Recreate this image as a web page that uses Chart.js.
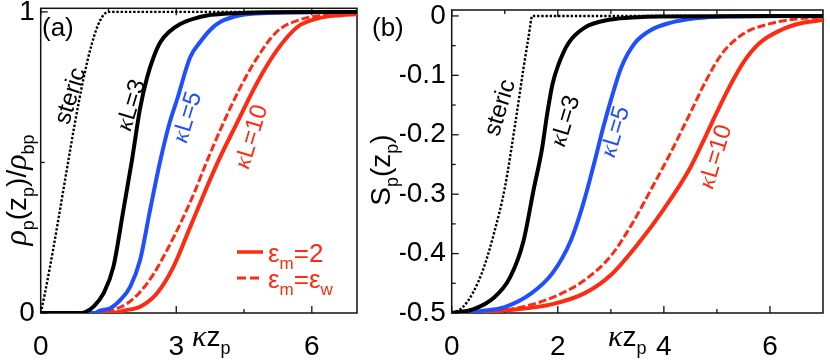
<!DOCTYPE html>
<html>
<head>
<meta charset="utf-8">
<script src="https://cdn.jsdelivr.net/npm/chart.js@4.4.1/dist/chart.umd.min.js"></script>
<style>
  html, body { margin: 0; padding: 0; background: #fff; }
  #wrap { position: relative; width: 830px; height: 360px; overflow: hidden; }
  canvas { position: absolute; top: 0; }
  #cA { left: 0; }
  #cB { left: 360px; }
</style>
</head>
<body>
<div id="wrap">
  <canvas id="cA" width="360" height="360"></canvas>
  <canvas id="cB" width="470" height="360"></canvas>
</div>
<script>
// ---- panel (a): rho_p(z_p)/rho_bp vs kappa z_p ----
const stericA_x = [0, 1.5, 7];
const stericA_y = [0, 1, 1];
const kL3A_x = [0, 0.9, 1.0, 1.17, 1.39, 1.61, 1.83, 2.02, 2.2, 2.35, 2.5, 2.65, 2.85, 3.09, 3.4, 3.68, 4.2, 5, 7];
const kL3A_y = [0, 0, 0.004, 0.021, 0.065, 0.154, 0.342, 0.508, 0.68, 0.78, 0.85, 0.9, 0.935, 0.96, 0.978, 0.988, 0.995, 0.999, 1];
const kL5A_x = [0, 1.2, 1.31, 1.54, 1.76, 1.98, 2.2, 2.42, 2.65, 2.85, 3.02, 3.31, 3.53, 3.75, 3.98, 4.42, 5, 7];
const kL5A_y = [0, 0, 0.008, 0.016, 0.043, 0.087, 0.176, 0.342, 0.508, 0.63, 0.71, 0.85, 0.9, 0.94, 0.967, 0.989, 0.996, 1];
const kL10wA_x = [0, 1.4, 1.6, 1.9, 2.2, 2.5, 2.8, 3.1, 3.4, 3.64, 3.98, 4.42, 4.8, 5.23, 5.75, 6.2, 7];
const kL10wA_y = [0, 0, 0.01, 0.03, 0.07, 0.13, 0.21, 0.3, 0.4, 0.49, 0.61, 0.75, 0.85, 0.935, 0.975, 0.988, 0.995];
const kL10A_x = [0, 1.6, 1.83, 2.2, 2.57, 2.94, 3.31, 3.68, 3.94, 4.34, 4.79, 5.23, 5.68, 6.12, 6.64, 7];
const kL10A_y = [0, 0, 0.008, 0.021, 0.065, 0.154, 0.286, 0.419, 0.508, 0.63, 0.765, 0.873, 0.95, 0.978, 0.989, 0.992];
const xMajorA = [0, 3, 6];
const xMinorA = [1.5, 4.5];
const yMajorA = [0, 1];
const yMinorA = [0.5];

// ---- panel (b): S_p(z_p) vs kappa z_p ----
const stericB_x = [0, 0.2, 0.4, 0.6, 0.8, 1.0, 1.2, 1.35, 1.45, 1.52, 7];
const stericB_y = [-0.5, -0.491, -0.466, -0.425, -0.365, -0.29, -0.18, -0.09, -0.035, 0, 0];
const kL3B_x = [0, 0.4, 0.8, 1.1, 1.35, 1.55, 1.7, 1.8, 1.9, 2.0, 2.2, 2.5, 3.0, 3.5, 4, 7];
const kL3B_y = [-0.5, -0.494, -0.474, -0.44, -0.38, -0.29, -0.225, -0.165, -0.115, -0.085, -0.046, -0.02, -0.006, -0.002, -0.001, 0];
const kL5B_x = [0, 0.6, 1.0, 1.5, 1.9, 2.25, 2.5, 2.7, 2.85, 3.0, 3.2, 3.45, 3.75, 4.1, 4.6, 5.2, 7];
const kL5B_y = [-0.5, -0.496, -0.49, -0.467, -0.433, -0.377, -0.31, -0.243, -0.19, -0.142, -0.086, -0.046, -0.024, -0.012, -0.004, -0.001, 0];
const kL10wB_x = [0, 1.0, 1.5, 2.0, 2.5, 3.0, 3.4, 3.8, 4.1, 4.5, 4.8, 5.1, 5.5, 6.0, 6.5, 7];
const kL10wB_y = [-0.5, -0.495, -0.486, -0.47, -0.445, -0.404, -0.35, -0.285, -0.235, -0.163, -0.108, -0.063, -0.03, -0.013, -0.005, -0.002];
const kL10B_x = [0, 1.2, 1.9, 2.5, 3.0, 3.5, 4.0, 4.5, 4.8, 5.0, 5.25, 5.5, 5.8, 6.2, 6.6, 7];
const kL10B_y = [-0.5, -0.494, -0.485, -0.467, -0.436, -0.385, -0.325, -0.255, -0.2, -0.162, -0.117, -0.078, -0.046, -0.024, -0.012, -0.007];
const xMajorB = [0, 2, 4, 6];
const xMinorB = [1, 3, 5];
const yMajorB = [0, -0.1, -0.2, -0.3, -0.4, -0.5];
const yMinorB = [-0.05, -0.15, -0.25, -0.35, -0.45];

const BLACK = '#000000';
const BLUE = '#1f4fff';
const RED = '#ff2a12';
const SANS = '"Liberation Sans", Arial, Helvetica, sans-serif';
const SERIF = '"Liberation Serif", "DejaVu Serif", serif';

const pts = (xs, ys) => xs.map((x, i) => ({ x: x, y: ys[i] }));

function line(xs, ys, color, width, dash) {
  return {
    data: pts(xs, ys),
    borderColor: color,
    borderWidth: width,
    borderDash: dash || [],
    pointRadius: 0,
    fill: false,
    cubicInterpolationMode: 'monotone'
  };
}

// draw a run of text pieces with different fonts (for sub-scripts, greek letters)
function rich(ctx, parts, x, y, align, rot, color) {
  ctx.save();
  ctx.translate(x, y);
  if (rot) ctx.rotate(rot);
  let w = 0;
  parts.forEach(p => { ctx.font = p.f; w += ctx.measureText(p.t).width; });
  let cx = align === 'center' ? -w / 2 : (align === 'right' ? -w : 0);
  ctx.fillStyle = color;
  ctx.textBaseline = 'alphabetic';
  parts.forEach(p => {
    ctx.font = p.f;
    ctx.fillText(p.t, cx, p.dy || 0);
    cx += ctx.measureText(p.t).width;
  });
  ctx.restore();
}

function framePlugin(xMaj, xMin, yMaj, yMin) {
  return {
    id: 'frame',
    beforeDatasetsDraw(chart) {
      const { ctx, chartArea: a, scales } = chart;
      ctx.save();
      ctx.strokeStyle = '#111';
      ctx.lineWidth = 1.5;
      ctx.strokeRect(a.left, a.top, a.right - a.left, a.bottom - a.top);
      ctx.lineWidth = 1.3;
      const tick = (vals, len) => {
        vals.forEach(v => {
          const px = scales.x.getPixelForValue(v);
          ctx.beginPath();
          ctx.moveTo(px, a.bottom); ctx.lineTo(px, a.bottom - len);
          ctx.moveTo(px, a.top); ctx.lineTo(px, a.top + len);
          ctx.stroke();
        });
      };
      const ytick = (vals, len) => {
        vals.forEach(v => {
          const py = scales.y.getPixelForValue(v);
          ctx.beginPath();
          ctx.moveTo(a.left, py); ctx.lineTo(a.left + len, py);
          ctx.stroke();
        });
      };
      tick(xMaj, 7); tick(xMin, 4);
      ytick(yMaj, 7); ytick(yMin, 4);
      ctx.restore();
    }
  };
}

function labelsPlugin(items) {
  return {
    id: 'labels',
    afterDatasetsDraw(chart) {
      const { ctx, scales } = chart;
      items.forEach(it => {
        const px = it.data ? scales.x.getPixelForValue(it.data[0]) : it.px[0];
        const py = it.data ? scales.y.getPixelForValue(it.data[1]) : it.px[1];
        rich(ctx, it.parts, px, py, it.align || 'center', it.rot || 0, it.color || BLACK);
      });
    }
  };
}

function axisOpts(min, max, ticks, size, pad, fmt) {
  return {
    type: 'linear', min: min, max: max,
    afterBuildTicks: s => { s.ticks = ticks.map(v => ({ value: v })); },
    grid: { display: false, drawTicks: false },
    border: { display: false },
    ticks: { color: '#000', font: { family: SANS, size: 28 }, padding: pad, maxRotation: 0, callback: fmt || (v => String(v)) },
    afterFit: s => {
      if (s.isHorizontal()) s.height = size; else s.width = size;
      s.paddingTop = 0; s.paddingBottom = 0; s.paddingLeft = 0; s.paddingRight = 0;
    }
  };
}

const ROT = -73 * Math.PI / 180;
const lab = (t) => [
  { t: '\u03ba', f: 'italic 24px ' + SERIF, dy: 7 },
  { t: t, f: '24px ' + SANS, dy: 7 }
];

// ---------- chart (a) ----------
new Chart(document.getElementById('cA'), {
  type: 'line',
  data: {
    datasets: [
      line(stericA_x, stericA_y, BLACK, 2.4, [2.4, 1.8]),
      line(kL3A_x, kL3A_y, BLACK, 4),
      line(kL5A_x, kL5A_y, BLUE, 4),
      line(kL10wA_x, kL10wA_y, RED, 3, [8, 3]),
      line(kL10A_x, kL10A_y, RED, 4)
    ]
  },
  options: {
    responsive: false, animation: false, devicePixelRatio: 1,
    layout: { padding: { top: 8.3, right: 3, left: 0, bottom: 0 } },
    plugins: { legend: { display: false }, tooltip: { enabled: false } },
    scales: {
      x: axisOpts(0, 7, xMajorA, 47, 17),
      y: axisOpts(0, 1.012, yMajorA, 40.7, 6)
    }
  },
  plugins: [
    framePlugin(xMajorA, xMinorA, yMajorA, yMinorA),
    labelsPlugin([
      { data: [0.68, 0.72], rot: ROT, parts: [{ t: 'steric', f: '24px ' + SANS, dy: 6 }] },
      { data: [2.0, 0.69], rot: ROT, parts: lab('L=3') },
      { data: [3.24, 0.65], rot: ROT, parts: lab('L=5'), color: BLUE },
      { data: [4.66, 0.585], rot: ROT, parts: lab('L=10'), color: RED },
      { px: [42, 36], align: 'left', parts: [{ t: '(a)', f: '26px ' + SANS }] },
      { px: [192, 346], align: 'left', parts: [
        { t: '\u03ba', f: 'italic 30px ' + SERIF },
        { t: 'z', f: '28px ' + SANS },
        { t: 'p', f: '18px ' + SANS, dy: 8 }
      ] },
      { px: [26, 190], rot: -Math.PI / 2, parts: [
        { t: '\u03c1', f: 'italic 32px ' + SERIF },
        { t: 'p', f: '18px ' + SANS, dy: 8 },
        { t: '(z', f: '28px ' + SANS },
        { t: 'p', f: '18px ' + SANS, dy: 8 },
        { t: ')/', f: '28px ' + SANS },
        { t: '\u03c1', f: 'italic 32px ' + SERIF },
        { t: 'bp', f: '18px ' + SANS, dy: 8 }
      ] },
      // legend text
      { px: [268, 262], align: 'left', color: RED, parts: [
        { t: '\u03b5', f: '26px ' + SANS },
        { t: 'm', f: '17px ' + SANS, dy: 7 },
        { t: '=2', f: '26px ' + SANS }
      ] },
      { px: [268, 288], align: 'left', color: RED, parts: [
        { t: '\u03b5', f: '26px ' + SANS },
        { t: 'm', f: '17px ' + SANS, dy: 7 },
        { t: '=\u03b5', f: '26px ' + SANS },
        { t: 'w', f: '17px ' + SANS, dy: 7 }
      ] }
    ]),
    {
      id: 'legendKeys',
      afterDatasetsDraw(chart) {
        const ctx = chart.ctx;
        ctx.save();
        ctx.strokeStyle = RED;
        ctx.lineWidth = 3.5;
        ctx.beginPath(); ctx.moveTo(237, 252); ctx.lineTo(263, 252); ctx.stroke();
        ctx.setLineDash([9, 4]);
        ctx.lineWidth = 3;
        ctx.beginPath(); ctx.moveTo(237, 278); ctx.lineTo(263, 278); ctx.stroke();
        ctx.restore();
      }
    }
  ]
});

// ---------- chart (b) ----------
new Chart(document.getElementById('cB'), {
  type: 'line',
  data: {
    datasets: [
      line(stericB_x, stericB_y, BLACK, 2.4, [2.4, 1.8]),
      line(kL3B_x, kL3B_y, BLACK, 4),
      line(kL5B_x, kL5B_y, BLUE, 4),
      line(kL10wB_x, kL10wB_y, RED, 3, [8, 3]),
      line(kL10B_x, kL10B_y, RED, 4)
    ]
  },
  options: {
    responsive: false, animation: false, devicePixelRatio: 1,
    layout: { padding: { top: 10, right: 7, left: 40, bottom: 0 } },
    plugins: { legend: { display: false }, tooltip: { enabled: false } },
    scales: {
      x: axisOpts(0, 7, xMajorB, 47, 17),
      y: axisOpts(-0.5, 0.01, yMajorB, 51.7, 6, v => (v === 0 ? '0' : v.toFixed(1)))
    }
  },
  plugins: [
    framePlugin(xMajorB, xMinorB, yMajorB, yMinorB),
    labelsPlugin([
      { data: [0.93, -0.155], rot: ROT, parts: [{ t: 'steric', f: '24px ' + SANS, dy: 6 }] },
      { data: [2.14, -0.177], rot: ROT, parts: lab('L=3') },
      { data: [3.08, -0.195], rot: ROT, parts: lab('L=5'), color: BLUE },
      { data: [4.97, -0.237], rot: ROT, parts: lab('L=10'), color: RED },
      { px: [12, 36], align: 'left', parts: [{ t: '(b)', f: '26px ' + SANS }] },
      { px: [248, 346], align: 'left', parts: [
        { t: '\u03ba', f: 'italic 30px ' + SERIF },
        { t: 'z', f: '28px ' + SANS },
        { t: 'p', f: '18px ' + SANS, dy: 8 }
      ] },
      { px: [30, 170], rot: -Math.PI / 2, parts: [
        { t: 'S', f: '28px ' + SANS },
        { t: 'p', f: '18px ' + SANS, dy: 8 },
        { t: '(z', f: '28px ' + SANS },
        { t: 'p', f: '18px ' + SANS, dy: 8 },
        { t: ')', f: '28px ' + SANS }
      ] }
    ])
  ]
});
</script>
</body>
</html>
